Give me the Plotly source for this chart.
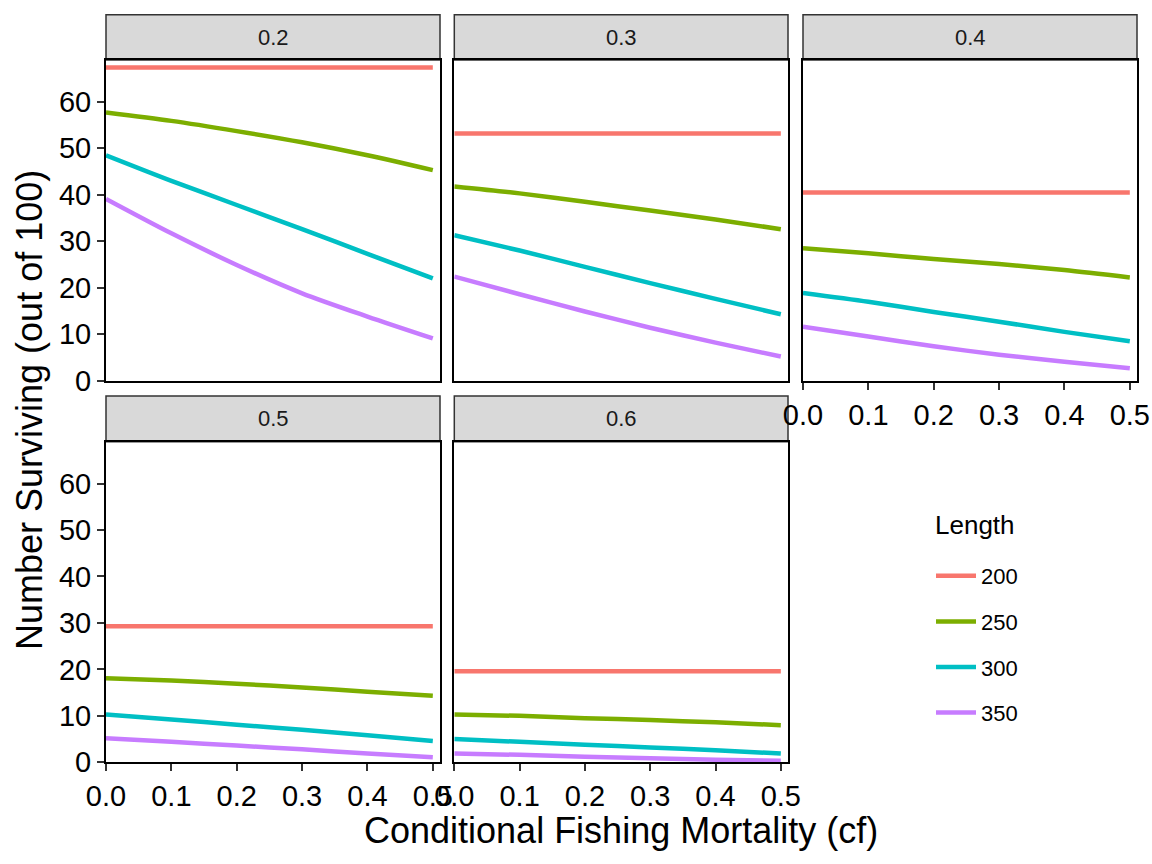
import plotly.graph_objects as go

# ---- data ----
cf = [0.0, 0.1, 0.2, 0.3, 0.4, 0.5]
panels = ["0.2", "0.3", "0.4", "0.5", "0.6"]
lengths = ["200", "250", "300", "350"]
colors = ["#F8766D", "#7CAE00", "#00BFC4", "#C77CFF"]

len200 = [
    [67.4, 67.4, 67.4, 67.4, 67.4, 67.4],
    [53.2, 53.2, 53.2, 53.2, 53.2, 53.2],
    [40.5, 40.5, 40.5, 40.5, 40.5, 40.5],
    [29.3, 29.3, 29.3, 29.3, 29.3, 29.3],
    [19.6, 19.6, 19.6, 19.6, 19.6, 19.6],
]
len250 = [
    [57.7, 55.9, 53.7, 51.3, 48.5, 45.3],
    [41.8, 40.3, 38.5, 36.6, 34.7, 32.6],
    [28.5, 27.4, 26.2, 25.1, 23.8, 22.2],
    [18.1, 17.6, 16.9, 16.1, 15.2, 14.3],
    [10.3, 10.0, 9.5, 9.1, 8.6, 8.0],
]
len300 = [
    [48.5, 43.0, 37.8, 32.6, 27.3, 22.0],
    [31.3, 28.0, 24.5, 21.0, 17.6, 14.3],
    [18.9, 17.0, 14.8, 12.7, 10.5, 8.5],
    [10.3, 9.2, 8.1, 7.0, 5.8, 4.6],
    [5.0, 4.4, 3.8, 3.2, 2.6, 1.9],
]
len350 = [
    [39.1, 31.7, 24.9, 18.8, 13.8, 9.1],
    [22.4, 18.6, 14.9, 11.4, 8.2, 5.2],
    [11.6, 9.5, 7.4, 5.6, 4.1, 2.7],
    [5.2, 4.4, 3.6, 2.8, 1.9, 1.1],
    [1.9, 1.6, 1.2, 0.85, 0.55, 0.35],
]
series = [len200, len250, len300, len350]

x_ticks = [0.0, 0.1, 0.2, 0.3, 0.4, 0.5]
y_ticks = [0, 10, 20, 30, 40, 50, 60]

# ---- layout geometry (pixels) ----
W, H = 1152, 864
col_px = [(106, 440), (454.3, 788), (803, 1137)]
row_px = [(60, 380.7), (441.7, 762.3)]      # plot area top/bottom
strip_px = [(14.7, 60), (396, 441.7)]
pos = [(0, 0), (0, 1), (0, 2), (1, 0), (1, 1)]

FONT = "Liberation Sans, Arial, sans-serif"

fig = go.Figure()
layout = dict(
    width=W, height=H,
    margin=dict(l=0, r=0, t=0, b=0, autoexpand=False),
    paper_bgcolor="white", plot_bgcolor="white",
    font=dict(family=FONT, color="black"),
    showlegend=True,
)
shapes = []
annotations = []

for p, (r, c) in enumerate(pos):
    idx = p + 1
    xa = "xaxis" if idx == 1 else f"xaxis{idx}"
    ya = "yaxis" if idx == 1 else f"yaxis{idx}"
    xr = "x" if idx == 1 else f"x{idx}"
    yr = "y" if idx == 1 else f"y{idx}"
    x0, x1 = col_px[c]
    t, b = row_px[r]
    show_x = (r == 1) or (p == 2)
    show_y = (c == 0)
    layout[xa] = dict(
        domain=[x0 / W, x1 / W], anchor=yr, range=[0, 0.511], automargin=False,
        showgrid=False, zeroline=False, showline=True, mirror=True,
        linecolor="black", linewidth=2,
        tickvals=x_ticks if show_x else [], tickformat=".1f",
        ticks="outside" if show_x else "", ticklen=7, tickwidth=1.5, tickcolor="#333333",
        showticklabels=show_x, tickfont=dict(size=29, color="black", family=FONT),
    )
    layout[ya] = dict(
        domain=[1 - b / H, 1 - t / H], anchor=xr, range=[0, 69.0], automargin=False,
        showgrid=False, zeroline=False, showline=True, mirror=True,
        linecolor="black", linewidth=2,
        tickvals=y_ticks if show_y else [],
        ticks="outside" if show_y else "", ticklen=7, tickwidth=1.5, tickcolor="#333333",
        showticklabels=show_y, tickfont=dict(size=29, color="black", family=FONT),
    )
    st, sb = strip_px[r]
    shapes.append(dict(type="rect", xref="paper", yref="paper",
                       x0=x0 / W, x1=x1 / W, y0=1 - sb / H, y1=1 - st / H,
                       fillcolor="#D9D9D9", line=dict(color="#333333", width=1.5),
                       layer="below"))
    annotations.append(dict(text=panels[p], xref="paper", yref="paper",
                            x=(x0 + x1) / 2 / W, y=1 - (st + sb) / 2 / H,
                            showarrow=False, xanchor="center", yanchor="middle",
                            font=dict(size=22, color="#1A1A1A", family=FONT)))
    for k, L in enumerate(lengths):
        fig.add_trace(go.Scatter(
            x=cf, y=series[k][p], mode="lines", name=L,
            line=dict(color=colors[k], width=4.5, shape="spline", smoothing=0.8),
            legendgroup=L, showlegend=(p == 0),
            xaxis=xr, yaxis=yr,
        ))

annotations.append(dict(text="Conditional Fishing Mortality (cf)", xref="paper", yref="paper",
                        x=621 / W, y=1 - 830 / H, showarrow=False,
                        xanchor="center", yanchor="middle",
                        font=dict(size=36, color="black", family=FONT)))
annotations.append(dict(text="Number Surviving (out of 100)", xref="paper", yref="paper",
                        x=30 / W, y=1 - 410 / H, showarrow=False, textangle=-90,
                        xanchor="center", yanchor="middle",
                        font=dict(size=36, color="black", family=FONT)))
annotations.append(dict(text="Length", xref="paper", yref="paper",
                        x=933 / W, y=1 - 525 / H, showarrow=False,
                        xanchor="left", yanchor="middle",
                        font=dict(size=26, color="black", family=FONT)))

layout["shapes"] = shapes
layout["annotations"] = annotations
layout["legend"] = dict(
    font=dict(size=22, color="black", family=FONT),
    x=931 / W, y=1 - 555 / H, xanchor="left", yanchor="top",
    bgcolor="rgba(0,0,0,0)", tracegroupgap=14, itemwidth=40,
)
fig.update_layout(**layout)
fig.write_html(
    "out.html",
    config={"displayModeBar": False},
    post_script="document.body.style.margin='0';document.body.style.padding='0';",
)
